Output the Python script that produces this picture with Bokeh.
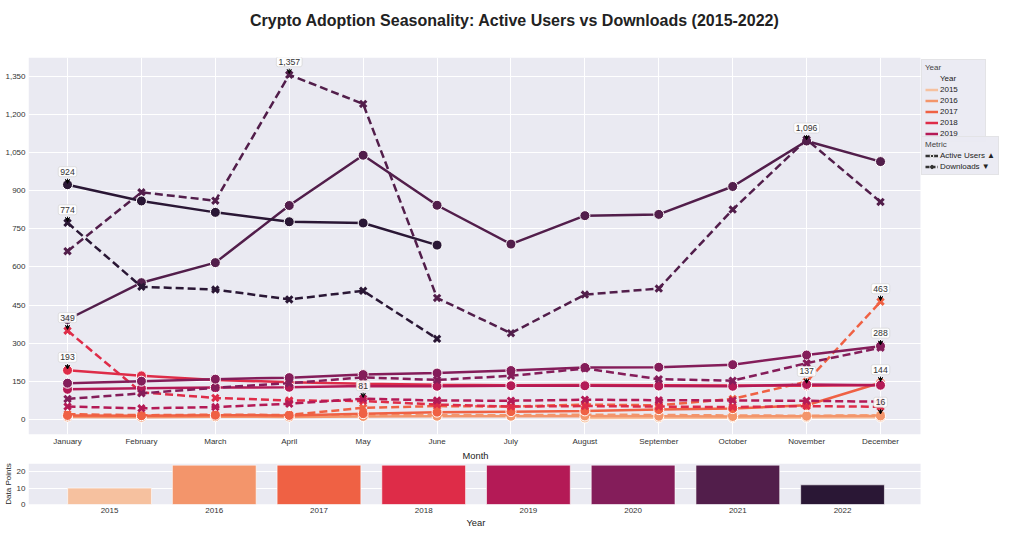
import numpy as np
from bokeh.plotting import figure
from bokeh.layouts import column
from bokeh.models import (ColumnDataSource, Label, Arrow, VeeHead, Legend, LegendItem,
                          FixedTicker, NumeralTickFormatter, BoxAnnotation, LinearAxis, Title)
from bokeh.embed import file_html
from bokeh.resources import INLINE

# data
months = ["January", "February", "March", "April", "May", "June", "July",
          "August", "September", "October", "November", "December"]
years = [2015, 2016, 2017, 2018, 2019, 2020, 2021, 2022]
colors = ["#f6c19f", "#f3956b", "#ef6144", "#de2c48", "#b41a56",
          "#841d5a", "#521e4b", "#2a1735"]

au_2015 = [None] * 7 + [5, 6, 6, 7, 8]
dl_2015 = [None] * 7 + [8, 9, 11, 12, 16]
au_2016 = [9, 8, 10, 9, 11, 12, 12, 13, 12, 11, 12, 13]
dl_2016 = [14, 12, 15, 13, 16, 17, 16, 18, 17, 15, 14, 15]
au_2017 = [15, 14, 16, 15, 22, 28, 30, 33, 38, 42, 55, 144]
dl_2017 = [20, 16, 18, 17, 45, 52, 50, 58, 55, 80, 148, 463]
au_2018 = [193, 171, 155, 146, 140, 136, 134, 135, 134, 133, 132, 135]
dl_2018 = [349, 106, 84, 74, 72, 58, 50, 52, 50, 48, 52, 49]
au_2019 = [118, 122, 125, 126, 131, 130, 132, 132, 131, 130, 137, 134]
dl_2019 = [50, 43, 48, 61, 81, 74, 73, 77, 75, 74, 73, 69]
au_2020 = [142, 150, 158, 164, 176, 182, 192, 204, 205, 215, 253, 288]
dl_2020 = [80, 102, 124, 142, 165, 155, 171, 200, 158, 152, 221, 282]
au_2021 = [393, 538, 617, 842, 1040, 843, 690, 802, 807, 917, 1096, 1015]
dl_2021 = [662, 894, 861, 1357, 1242, 478, 339, 491, 515, 826, 1102, 856]
au_2022 = [924, 860, 815, 778, 773, 686] + [None] * 6
dl_2022 = [774, 522, 511, 472, 506, 317] + [None] * 6

active_users = [au_2015, au_2016, au_2017, au_2018, au_2019, au_2020, au_2021, au_2022]
downloads = [dl_2015, dl_2016, dl_2017, dl_2018, dl_2019, dl_2020, dl_2021, dl_2022]

ann_month = ["January", "January", "April", "November", "January", "January",
             "December", "December", "November", "December", "December", "May"]
ann_value = [924, 774, 1357, 1096, 349, 193, 463, 288, 137, 144, 16, 81]

TITLE = "Crypto Adoption Seasonality: Active Users vs Downloads (2015-2022)"
FONT = "Liberation Sans"
BG = "#EAEAF2"

# the frame runs to the right edge so the legend can sit in it; the grey
# plotting area stops short of the legend
X_TOP = (-0.528, 12.637)
GREY_RIGHT_TOP = 11.541
X_BAR = (-0.774, 8.518)
GREY_RIGHT_BAR = 7.745


def style(fig, xr, grey_right):
    fig.background_fill_color = "white"
    fig.border_fill_color = "white"
    fig.outline_line_color = None
    fig.add_layout(BoxAnnotation(left=xr[0], right=grey_right, fill_color=BG,
                                 fill_alpha=1, line_color=None, level="image"))
    fig.grid.grid_line_color = "white"
    fig.grid.grid_line_width = 1
    fig.ygrid.bounds = (xr[0], grey_right)
    for ax in fig.axis:
        ax.axis_line_color = None
        ax.major_tick_line_color = None
        ax.minor_tick_line_color = None
        ax.major_tick_out = 0
        ax.major_tick_in = 0
        ax.minor_tick_out = 0
        ax.minor_tick_in = 0
        ax.major_label_text_font = FONT
        ax.major_label_text_font_size = "6pt"
        ax.major_label_text_color = "#333333"
        ax.axis_label_text_font = FONT
        ax.axis_label_text_font_size = "6pt"
        ax.axis_label_text_font_style = "normal"
        ax.axis_label_text_color = "#222222"
        ax.major_label_standoff = 3
        ax.axis_label_standoff = 1


def below_title(fig, text, offset):
    fig.add_layout(Title(text=text, align="left", offset=offset, standoff=0,
                         text_font=FONT, text_font_size="7pt",
                         text_font_style="normal", text_color="#222222"), "below")


p = figure(width=1001, height=460, x_range=X_TOP, y_range=(-60, 1425),
           output_backend="svg", toolbar_location=None,
           min_border_left=28, min_border_right=0, min_border_top=57, min_border_bottom=26)
style(p, X_TOP, GREY_RIGHT_TOP)
p.xaxis.ticker = FixedTicker(ticks=list(range(len(months))))
p.xaxis.major_label_overrides = {i: m for i, m in enumerate(months)}
p.xaxis.major_label_standoff = 2
p.yaxis.ticker = FixedTicker(ticks=list(range(0, 1351, 150)))
p.yaxis.formatter = NumeralTickFormatter(format="0,0")
below_title(p, "Month", 434)

# chart title drawn as the label of an empty axis above the frame
title_axis = LinearAxis(ticker=FixedTicker(ticks=[]), axis_label=TITLE,
                        axis_line_color=None, major_tick_out=0, major_tick_in=0,
                        minor_tick_out=0, minor_tick_in=0,
                        major_label_text_font_size="0pt",
                        axis_label_text_font=FONT, axis_label_text_font_size="12pt",
                        axis_label_text_font_style="bold", axis_label_text_color="#222222",
                        axis_label_standoff=29)
p.add_layout(title_axis, "above")

line_r = {}
for yr, col, au, dl in zip(years, colors, active_users, downloads):
    xa = [i for i, v in enumerate(au) if v is not None]
    ya = [v for v in au if v is not None]
    xd = [i for i, v in enumerate(dl) if v is not None]
    yd = [v for v in dl if v is not None]
    line_r[yr] = p.line(xa, ya, line_color=col, line_width=2.5)
    p.scatter(xa, ya, marker="circle", size=10, fill_color=col,
              line_color="white", line_width=1)
    p.line(xd, yd, line_color=col, line_width=2.5, line_dash="8 4")
    p.scatter(xd, yd, marker="x", size=9, line_color=col, line_width=3)

# peak annotations
ann_x = [months.index(m) for m in ann_month]
arrow_src = ColumnDataSource(dict(x=ann_x,
                                  y0=[v + 24 for v in ann_value],
                                  y1=[v + 5 for v in ann_value]))
p.add_layout(Arrow(end=VeeHead(size=4, fill_color="black", line_color="black"),
                   x_start="x", y_start="y0", x_end="x", y_end="y1",
                   source=arrow_src, line_color="black", line_width=1))
for xi, v in zip(ann_x, ann_value):
    p.add_layout(Label(x=xi, y=v, text=f"{v:,}", y_offset=13,
                       text_align="center", text_baseline="middle",
                       text_font=FONT, text_font_size="6.5pt", text_color="#333333",
                       background_fill_color="white", background_fill_alpha=0.9,
                       border_line_color="#d0d0d0", border_line_alpha=0.6,
                       border_radius=2, padding=2))

# legends (legend-only renderers hold a single NaN point)
nan = np.array([np.nan])
blank = p.line(nan, nan, line_alpha=0)
year_items = [LegendItem(label="Year", renderers=[blank])]
for yr in years[:5]:
    year_items.append(LegendItem(label=str(yr), renderers=[line_r[yr]]))

au_line = p.line(nan, nan, line_color="#333333", line_width=2.5)
au_dot = p.scatter(nan, nan, marker="circle", size=9, fill_color="#333333",
                   line_color="white", line_width=1)
dl_line = p.line(nan, nan, line_color="#333333", line_width=2.5, line_dash="4 2")
dl_x = p.scatter(nan, nan, marker="x", size=7, line_color="#333333", line_width=2.5)
metric_items = [LegendItem(label="Active Users \u25b2", renderers=[au_line, au_dot]),
                LegendItem(label="Downloads \u25bc", renderers=[dl_line, dl_x])]


def make_legend(items, title, loc, label_width):
    return Legend(items=items, title=title, location=loc,
                  title_text_font=FONT, title_text_font_size="6pt",
                  title_text_font_style="normal", title_standoff=2,
                  label_text_font=FONT, label_text_font_size="6pt",
                  label_text_color="#222222", label_height=9, label_standoff=2,
                  label_width=label_width,
                  glyph_height=9, glyph_width=13, spacing=2, padding=3, margin=0,
                  background_fill_color=BG, background_fill_alpha=0.95,
                  border_line_color="#dddddd", border_line_alpha=0.6)


p.add_layout(make_legend(year_items, "Year", (893, 292), 42))
p.add_layout(make_legend(metric_items, "Metric", (893, 259), 20))

# data point counts per year
counts = [sum(v is not None for v in au) + sum(v is not None for v in dl)
          for au, dl in zip(active_users, downloads)]

b = figure(width=1001, height=68, x_range=X_BAR, y_range=(0, 25),
           output_backend="svg", toolbar_location=None,
           min_border_left=28, min_border_right=0, min_border_top=3, min_border_bottom=24)
style(b, X_BAR, GREY_RIGHT_BAR)
b.vbar(x=list(range(len(years))), top=counts, width=0.8, fill_color=colors,
       line_color="white", line_width=0.6)
b.xgrid.grid_line_color = None
b.xaxis.ticker = FixedTicker(ticks=list(range(len(years))))
b.xaxis.major_label_overrides = {i: str(y) for i, y in enumerate(years)}
b.yaxis.ticker = FixedTicker(ticks=[0, 10, 20])
b.yaxis.axis_label = "Data Points"
below_title(b, "Year", 438)

layout = column(p, b)
open("out.html", "w").write(file_html(layout, INLINE))
